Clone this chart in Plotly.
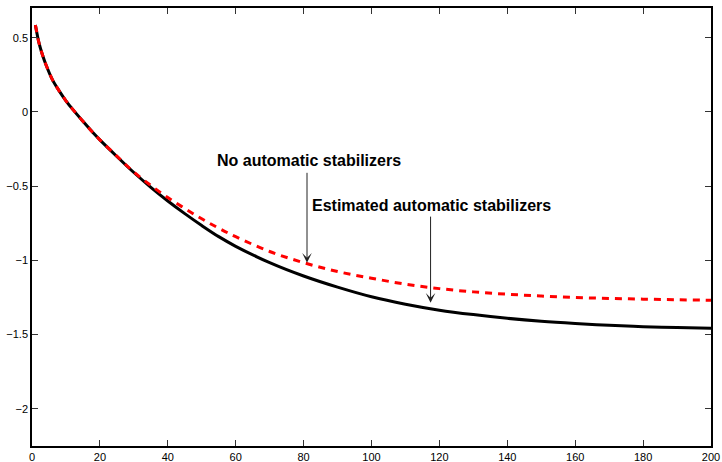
import plotly.graph_objects as go

x_vals = [1, 2, 3, 4, 6, 8, 10, 12, 15, 18, 20, 25, 30, 35, 40, 45, 50, 55, 60, 70, 80, 90,
          100, 110, 120, 130, 140, 150, 160, 170, 180, 190, 200]

estimated = [0.585, 0.47, 0.39, 0.325, 0.218, 0.142, 0.075, 0.017, -0.063, -0.14, -0.188,
             -0.30, -0.408, -0.508, -0.60, -0.685, -0.765, -0.84, -0.905, -1.015, -1.105,
             -1.18, -1.245, -1.295, -1.335, -1.365, -1.39, -1.41, -1.425, -1.437, -1.446,
             -1.452, -1.457]

no_stab = [0.585, 0.47, 0.39, 0.325, 0.218, 0.142, 0.075, 0.017, -0.063, -0.14, -0.188,
           -0.298, -0.405, -0.495, -0.577, -0.65, -0.72, -0.783, -0.84, -0.94, -1.015,
           -1.075, -1.12, -1.16, -1.19, -1.212, -1.228, -1.24, -1.25, -1.256, -1.261,
           -1.265, -1.268]

y_ticks = [-2, -1.5, -1, -0.5, 0, 0.5]
x_ticks = [0, 20, 40, 60, 80, 100, 120, 140, 160, 180, 200]

fig = go.Figure()
fig.add_trace(go.Scatter(x=x_vals, y=estimated, mode="lines",
                         line=dict(color="black", width=3, shape="spline"),
                         name="Estimated automatic stabilizers"))
fig.add_trace(go.Scatter(x=x_vals, y=no_stab, mode="lines",
                         line=dict(color="#ff0000", width=3, dash="7px,6px", shape="spline"),
                         name="No automatic stabilizers"))

font_lbl = dict(family="Liberation Sans, Arial, sans-serif", size=16, color="black")

fig.add_annotation(x=54, y=-0.33, xref="x", yref="y", text="<b>No automatic stabilizers</b>",
                   showarrow=False, xanchor="left", yanchor="middle", font=font_lbl)
fig.add_annotation(x=82, y=-0.633, xref="x", yref="y", text="<b>Estimated automatic stabilizers</b>",
                   showarrow=False, xanchor="left", yanchor="middle", font=font_lbl)

fig.add_annotation(x=81, y=-1.015, xref="x", yref="y", ax=81, ay=-0.4,
                   axref="x", ayref="y", text="", showarrow=True,
                   arrowhead=3, arrowsize=1.6, arrowwidth=1, arrowcolor="#222")
fig.add_annotation(x=117.4, y=-1.285, xref="x", yref="y", ax=117.4, ay=-0.695,
                   axref="x", ayref="y", text="", showarrow=True,
                   arrowhead=3, arrowsize=1.6, arrowwidth=1, arrowcolor="#222")

axis_common = dict(showgrid=False, zeroline=False, showline=True, linecolor="black",
                   linewidth=1.5, mirror="ticks", ticks="inside", ticklen=6,
                   tickwidth=1, tickcolor="#333", automargin=False,
                   tickfont=dict(family="Liberation Sans, Arial, sans-serif", size=11, color="black"))

fig.update_xaxes(range=[0, 200], tickvals=x_ticks, **axis_common)
fig.update_yaxes(range=[-2.25, 0.7], tickvals=y_ticks, **axis_common)

fig.update_layout(width=722, height=462, showlegend=False,
                  plot_bgcolor="white", paper_bgcolor="white",
                  margin=dict(l=32, r=11, t=8, b=16))

fig.write_html("out.html", config={"displayModeBar": False},
               post_script="document.body.style.margin='0';document.body.style.overflow='hidden';")
